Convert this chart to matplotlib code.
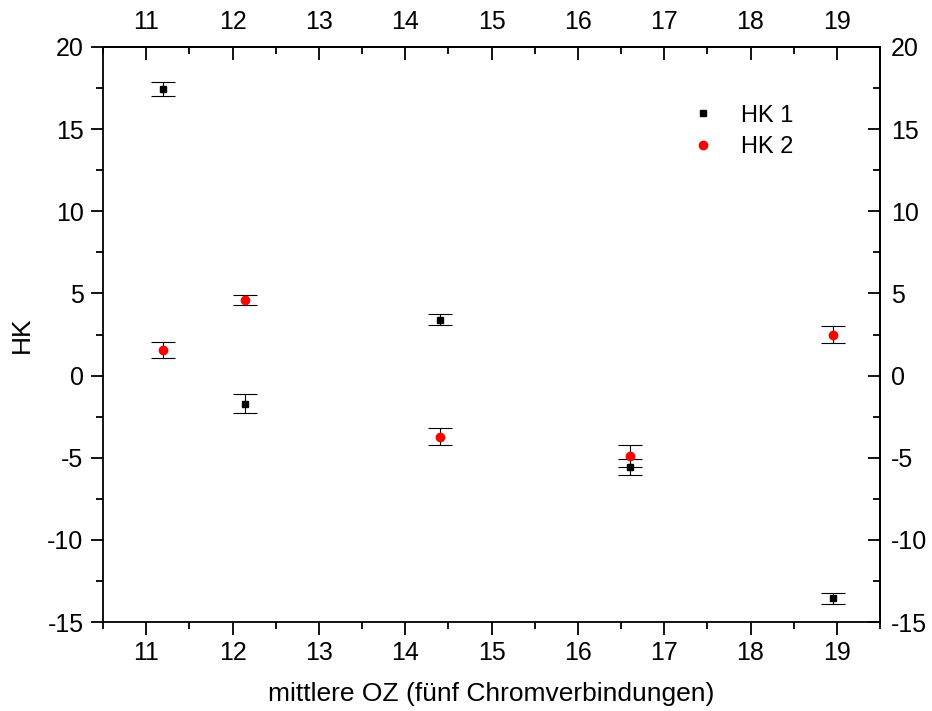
import numpy as np
import matplotlib
matplotlib.use("Agg")
import matplotlib.pyplot as plt
from matplotlib.ticker import MultipleLocator

plt.rcParams['font.family'] = ['Liberation Sans', 'DejaVu Sans']
plt.rcParams['axes.unicode_minus'] = False

# values
oz = [11.2, 12.15, 14.4, 16.6, 18.95]
hk1 = [17.45, -1.7, 3.4, -5.55, -13.55]
hk1_err = [0.45, 0.55, 0.33, 0.5, 0.33]
hk2 = [1.55, 4.6, -3.72, -4.9, 2.5]
hk2_err = [0.5, 0.33, 0.5, 0.65, 0.52]
xlabel = "mittlere OZ (fünf Chromverbindungen)"
ylabel = "HK"

fig = plt.figure(figsize=(9.32, 7.11), dpi=100)
ax = fig.add_axes([103/932, 1-622/711, 777/932, 575/711])

ekw = dict(ls='none', ecolor='black', elinewidth=0.8, capsize=8.6, capthick=0.8)
ax.errorbar(oz, hk1, yerr=hk1_err, marker='s', ms=5, mfc='black', mec='black',
            label='HK 1', **ekw)
ax.errorbar(oz, hk2, yerr=hk2_err, marker='o', ms=6, mfc='red', mec='red',
            label='HK 2', **ekw)

ax.set_xlim(10.5, 19.5)
ax.set_ylim(-15, 20)
ax.xaxis.set_major_locator(MultipleLocator(1))
ax.xaxis.set_minor_locator(MultipleLocator(0.5))
ax.yaxis.set_major_locator(MultipleLocator(5))
ax.yaxis.set_minor_locator(MultipleLocator(2.5))

for s in ax.spines.values():
    s.set_linewidth(1.3)
ax.tick_params(which='both', direction='out', width=1.3, labelsize=18)
ax.tick_params(which='major', length=9)
ax.tick_params(which='minor', length=5)
ax.tick_params(axis='x', which='major', pad=5)
ax.tick_params(axis='y', which='major', pad=5)

# top and right axes: ticks inward, labels shown
top = ax.secondary_xaxis('top')
top.xaxis.set_major_locator(MultipleLocator(1))
top.xaxis.set_minor_locator(MultipleLocator(0.5))
right = ax.secondary_yaxis('right')
right.yaxis.set_major_locator(MultipleLocator(5))
right.yaxis.set_minor_locator(MultipleLocator(2.5))
for sec, p in ((top, 9), (right, 8)):
    sec.spines[:].set_linewidth(1.3)
    sec.tick_params(which='both', direction='in', width=1.3, labelsize=18)
    sec.tick_params(which='major', length=9, pad=p)
    sec.tick_params(which='minor', length=5)

ax.set_xlabel(xlabel, fontsize=19, labelpad=12)
ax.set_ylabel(ylabel, fontsize=19, labelpad=10)

handles, labels = ax.get_legend_handles_labels()
handles = [h[0] for h in handles]
ax.legend(handles, labels, loc='upper left', bbox_to_anchor=(0.757, 0.900),
          frameon=False, fontsize=17, handlelength=1.0, handletextpad=1.1,
          labelspacing=0.42, borderpad=0, borderaxespad=0)

fig.savefig('out.png', dpi=100)
